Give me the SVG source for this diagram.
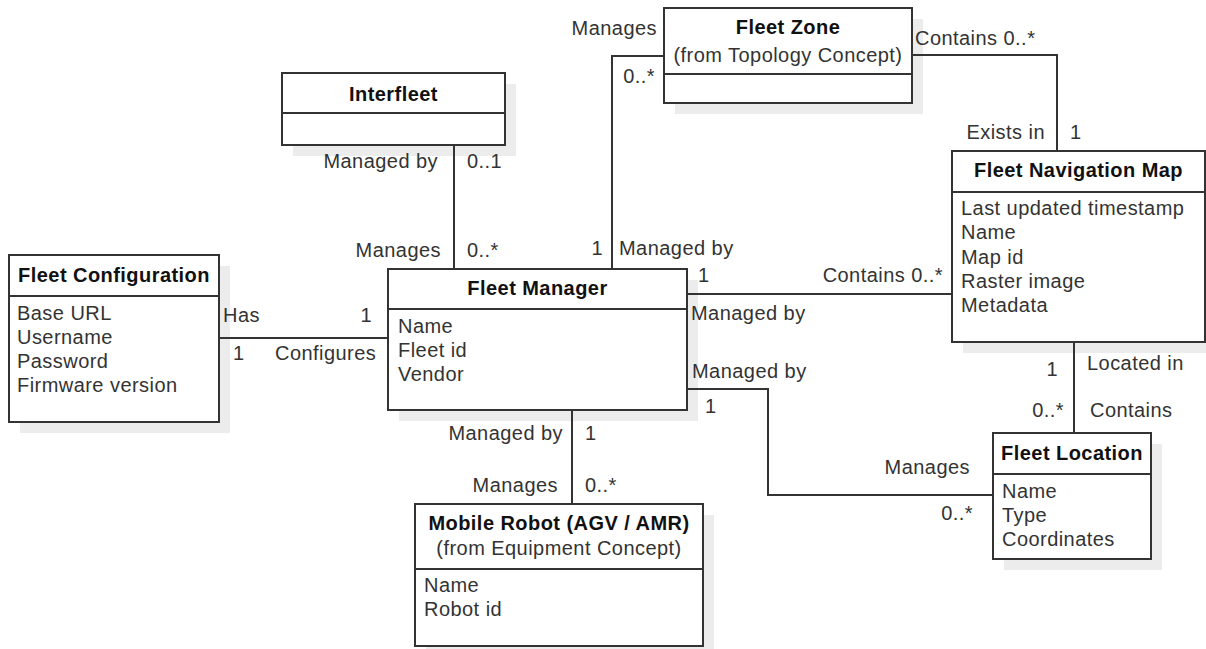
<svg xmlns="http://www.w3.org/2000/svg" width="1206" height="649" viewBox="0 0 1206 649">
  <style>
    text { font-family: "Liberation Sans", Arial, sans-serif; font-size: 20px; letter-spacing: 0.45px; fill: #333; }
    .title { font-weight: bold; fill: #111; text-anchor: middle; }
    .sub { text-anchor: middle; }
    .end { text-anchor: end; }
    .box { fill: #fff; stroke: #333; stroke-width: 2; }
    .shadow { fill: #ececec; }
    .sep { stroke: #333; stroke-width: 2; }
    .link { fill: none; stroke: #333; stroke-width: 2; }
  </style>
  <rect width="1206" height="649" fill="#fff"/>

  <!-- classes -->
  <g id="fleet-configuration">
    <rect class="shadow" x="20" y="266" width="210" height="167"/>
    <rect class="box" x="9" y="255" width="210" height="167"/>
    <line class="sep" x1="9" y1="296" x2="219" y2="296"/>
    <text class="title" x="114" y="282">Fleet Configuration</text>
    <text x="17" y="320">Base URL</text>
    <text x="17" y="344">Username</text>
    <text x="17" y="368">Password</text>
    <text x="17" y="392">Firmware version</text>
  </g>

  <g id="interfleet">
    <rect class="shadow" x="293" y="84" width="223" height="72"/>
    <rect class="box" x="282" y="73" width="223" height="72"/>
    <line class="sep" x1="282" y1="113" x2="505" y2="113"/>
    <text class="title" x="393.5" y="101">Interfleet</text>
  </g>

  <g id="fleet-manager">
    <rect class="shadow" x="399" y="280" width="299" height="141"/>
    <rect class="box" x="388" y="269" width="299" height="141"/>
    <line class="sep" x1="388" y1="309" x2="687" y2="309"/>
    <text class="title" x="537.5" y="295">Fleet Manager</text>
    <text x="398" y="333">Name</text>
    <text x="398" y="357">Fleet id</text>
    <text x="398" y="381">Vendor</text>
  </g>

  <g id="fleet-zone">
    <rect class="shadow" x="675" y="19" width="248" height="95"/>
    <rect class="box" x="664" y="8" width="248" height="95"/>
    <line class="sep" x1="664" y1="74" x2="912" y2="74"/>
    <text class="title" x="788" y="34">Fleet Zone</text>
    <text class="sub" x="788" y="62">(from Topology Concept)</text>
  </g>

  <g id="fleet-navigation-map">
    <rect class="shadow" x="963" y="162" width="253" height="191"/>
    <rect class="box" x="952" y="151" width="253" height="191"/>
    <line class="sep" x1="952" y1="192" x2="1205" y2="192"/>
    <text class="title" x="1078.5" y="177">Fleet Navigation Map</text>
    <text x="961" y="215">Last updated timestamp</text>
    <text x="961" y="239">Name</text>
    <text x="961" y="264">Map id</text>
    <text x="961" y="288">Raster image</text>
    <text x="961" y="312">Metadata</text>
  </g>

  <g id="fleet-location">
    <rect class="shadow" x="1004" y="444" width="158" height="126"/>
    <rect class="box" x="993" y="433" width="158" height="126"/>
    <line class="sep" x1="993" y1="474" x2="1151" y2="474"/>
    <text class="title" x="1072" y="460">Fleet Location</text>
    <text x="1002" y="498">Name</text>
    <text x="1002" y="522">Type</text>
    <text x="1002" y="546">Coordinates</text>
  </g>

  <g id="mobile-robot">
    <rect class="shadow" x="426" y="515" width="288" height="142"/>
    <rect class="box" x="415" y="504" width="288" height="142"/>
    <line class="sep" x1="415" y1="569" x2="703" y2="569"/>
    <text class="title" x="559" y="530">Mobile Robot (AGV / AMR)</text>
    <text class="sub" x="559" y="555">(from Equipment Concept)</text>
    <text x="424" y="592">Name</text>
    <text x="424" y="616">Robot id</text>
  </g>

  <!-- associations, drawn over the drop shadows -->
  <g id="connectors">
    <path class="link" d="M219 338 H388"/>
    <path class="link" d="M454 145 V269"/>
    <path class="link" d="M664 56 H612 V269"/>
    <path class="link" d="M912 55 H1057 V151"/>
    <path class="link" d="M687 294 H952"/>
    <path class="link" d="M687 389 H768 V495 H993"/>
    <path class="link" d="M1074 342 V433"/>
    <path class="link" d="M572 410 V504"/>

    <!-- role names and multiplicities -->
    <text x="223" y="322">Has</text>
    <text class="end" x="372" y="322">1</text>
    <text x="233" y="360">1</text>
    <text x="275" y="360">Configures</text>

    <text class="end" x="438" y="168">Managed by</text>
    <text x="467" y="168">0..1</text>
    <text class="end" x="441" y="257">Manages</text>
    <text x="467" y="257">0..*</text>

    <text class="end" x="657" y="35">Manages</text>
    <text class="end" x="655" y="83">0..*</text>
    <text class="end" x="603" y="255">1</text>
    <text x="619" y="255">Managed by</text>

    <text x="915" y="45">Contains 0..*</text>
    <text class="end" x="1045" y="139">Exists in</text>
    <text x="1070" y="139">1</text>

    <text x="698" y="282">1</text>
    <text class="end" x="943" y="282">Contains 0..*</text>
    <text x="691" y="320">Managed by</text>

    <text x="692" y="378">Managed by</text>
    <text x="705" y="413">1</text>
    <text class="end" x="970" y="474">Manages</text>
    <text class="end" x="973" y="520">0..*</text>

    <text class="end" x="1058" y="376">1</text>
    <text x="1087" y="370">Located in</text>
    <text class="end" x="1064" y="417">0..*</text>
    <text x="1090" y="417">Contains</text>

    <text class="end" x="563" y="440">Managed by</text>
    <text x="585" y="440">1</text>
    <text class="end" x="558" y="492">Manages</text>
    <text x="585" y="492">0..*</text>
  </g>
</svg>
